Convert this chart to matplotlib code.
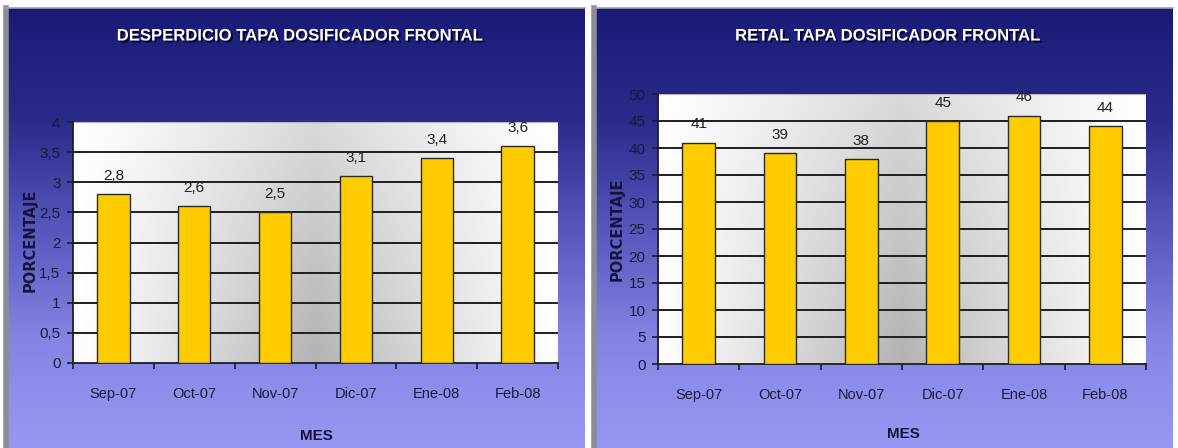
import numpy as np
import matplotlib
matplotlib.use("Agg")
import matplotlib.pyplot as plt
from matplotlib.colors import LinearSegmentedColormap
import matplotlib.patheffects as pe

# ---------------- data ----------------
months = ["Sep-07", "Oct-07", "Nov-07", "Dic-07", "Ene-08", "Feb-08"]
desperdicio = [2.8, 2.6, 2.5, 3.1, 3.4, 3.6]
retal = [41, 39, 38, 45, 46, 44]
title_left = "DESPERDICIO TAPA DOSIFICADOR FRONTAL"
title_right = "RETAL TAPA DOSIFICADOR FRONTAL"
ylabel = "PORCENTAJE"
xlabel = "MES"

FONT = "Liberation Sans"

W, H = 1178, 448
fig = plt.figure(figsize=(W / 100, H / 100), dpi=100)
fig.patch.set_facecolor("white")

panel_cmap = LinearSegmentedColormap.from_list(
    "panel", ["#1a1a76", "#2a2a8a", "#5656bc", "#8484e4", "#9898f2"])


def fx(px):
    return px / W


def fy(py):
    return 1 - py / H


def make_panel(x0, x1, y0, y1):
    bg = fig.add_axes([fx(x0), fy(y1), fx(x1 - x0), (y1 - y0) / H], zorder=0)
    grad = np.linspace(0, 1, 256).reshape(-1, 1)
    bg.imshow(grad, cmap=panel_cmap, aspect="auto", extent=[0, 1, 0, 1],
              origin="upper")
    bg.set_xlim(0, 1)
    bg.set_ylim(0, 1)
    bg.set_xticks([])
    bg.set_yticks([])
    for s in ["right", "bottom"]:
        bg.spines[s].set_visible(False)
    bg.spines["left"].set_color("#8c8c96")
    bg.spines["left"].set_linewidth(4)
    bg.spines["top"].set_color("#a0a0b4")
    bg.spines["top"].set_linewidth(1.2)
    return bg


def plot_background():
    xs = np.linspace(0, 1, 300)
    ys = np.linspace(1, 0, 200)  # top row first
    X, Y = np.meshgrid(xs, ys)
    horiz = np.clip(1 - np.abs(2 * X - 1), 0, 1) ** 1.1
    vert = 0.5 + 0.5 * (1 - Y)
    dark = 0.30 * horiz * vert
    g = 1 - dark
    return np.dstack([g, g, g])


def make_chart(rect, values, ymax, ystep, fmt, title, title_xy,
               ylabel_xy, xlabel_xy):
    ax = fig.add_axes(rect, zorder=2)
    ax.imshow(plot_background(), aspect="auto", extent=[0, 1, 0, 1],
              transform=ax.transAxes, zorder=0)
    x = np.arange(len(months))
    ax.set_xlim(-0.5, len(months) - 0.5)
    ax.set_ylim(0, ymax)
    yt = np.arange(0, ymax + ystep / 2, ystep)
    for v in yt[1:-1]:
        ax.axhline(v, color="#1e1e1e", lw=1.4, zorder=1)
    ax.axhline(ymax, color="#b8b8b8", lw=0.8, zorder=1)
    ax.axvline(len(months) - 0.5, color="#d0d0d0", lw=0.8, zorder=1)
    ax.bar(x, values, width=0.4, color="#ffcc00",
           edgecolor="#2a2a2a", linewidth=1.0, zorder=3)
    for xi, v in zip(x, values):
        ax.annotate(fmt(v), (xi, v), xytext=(0, 8), textcoords="offset points",
                    ha="center", va="bottom", fontsize=11, family=FONT,
                    color="#202020", zorder=4, annotation_clip=False)
    ax.set_yticks(yt)
    ax.set_yticklabels([fmt(v) for v in yt], family=FONT, fontsize=11,
                       color="#1a1a3a")
    ax.set_xticks(np.arange(len(months) + 1) - 0.5, minor=False)
    ax.set_xticklabels([""] * (len(months) + 1))
    ax.set_xticks(x, minor=True)
    ax.set_xticklabels(months, minor=True, family=FONT, fontsize=10.5,
                       color="#1a1a3a")
    ax.tick_params(axis="x", which="minor", length=0, pad=17)
    ax.tick_params(axis="x", which="major", length=4, width=1.2,
                   color="#1e1e1e", direction="out")
    ax.tick_params(axis="y", length=4, width=1.2, color="#1e1e1e", pad=5)
    for s in ["top", "right"]:
        ax.spines[s].set_visible(False)
    for s in ["left", "bottom"]:
        ax.spines[s].set_color("#1e1e1e")
        ax.spines[s].set_linewidth(1.3)
    ax.set_ylabel(ylabel, family="DejaVu Sans", fontweight="bold",
                  fontsize=10.5, color="#15153a")
    ax.yaxis.set_label_coords(*ylabel_xy)
    ax.set_xlabel(xlabel, family=FONT, fontweight="bold", fontsize=11,
                  color="#15153a")
    ax.xaxis.set_label_coords(*xlabel_xy)
    t = fig.text(title_xy[0], title_xy[1], title, ha="center", va="center",
                 family=FONT, fontweight="bold", fontsize=12, color="white",
                 zorder=5)
    t.set_path_effects([pe.withSimplePatchShadow(offset=(1.5, -1.5),
                                                 shadow_rgbFace="#000020",
                                                 alpha=0.8)])
    return ax


make_panel(6, 585, 8, 448)
make_panel(594, 1173, 8, 448)

fmt_dec = lambda v: ("%g" % v).replace(".", ",")

make_chart([fx(73), fy(363), fx(485), 241 / H], desperdicio, 4, 0.5, fmt_dec,
           title_left, (fx(299), fy(36)), (-0.072, 0.51), (0.501, -0.274))
make_chart([fx(658), fy(364), fx(488), 270 / H], retal, 50, 5, fmt_dec,
           title_right, (fx(887), fy(36)), (-0.068, 0.5), (0.502, -0.233))

fig.savefig("out.png", dpi=100)
